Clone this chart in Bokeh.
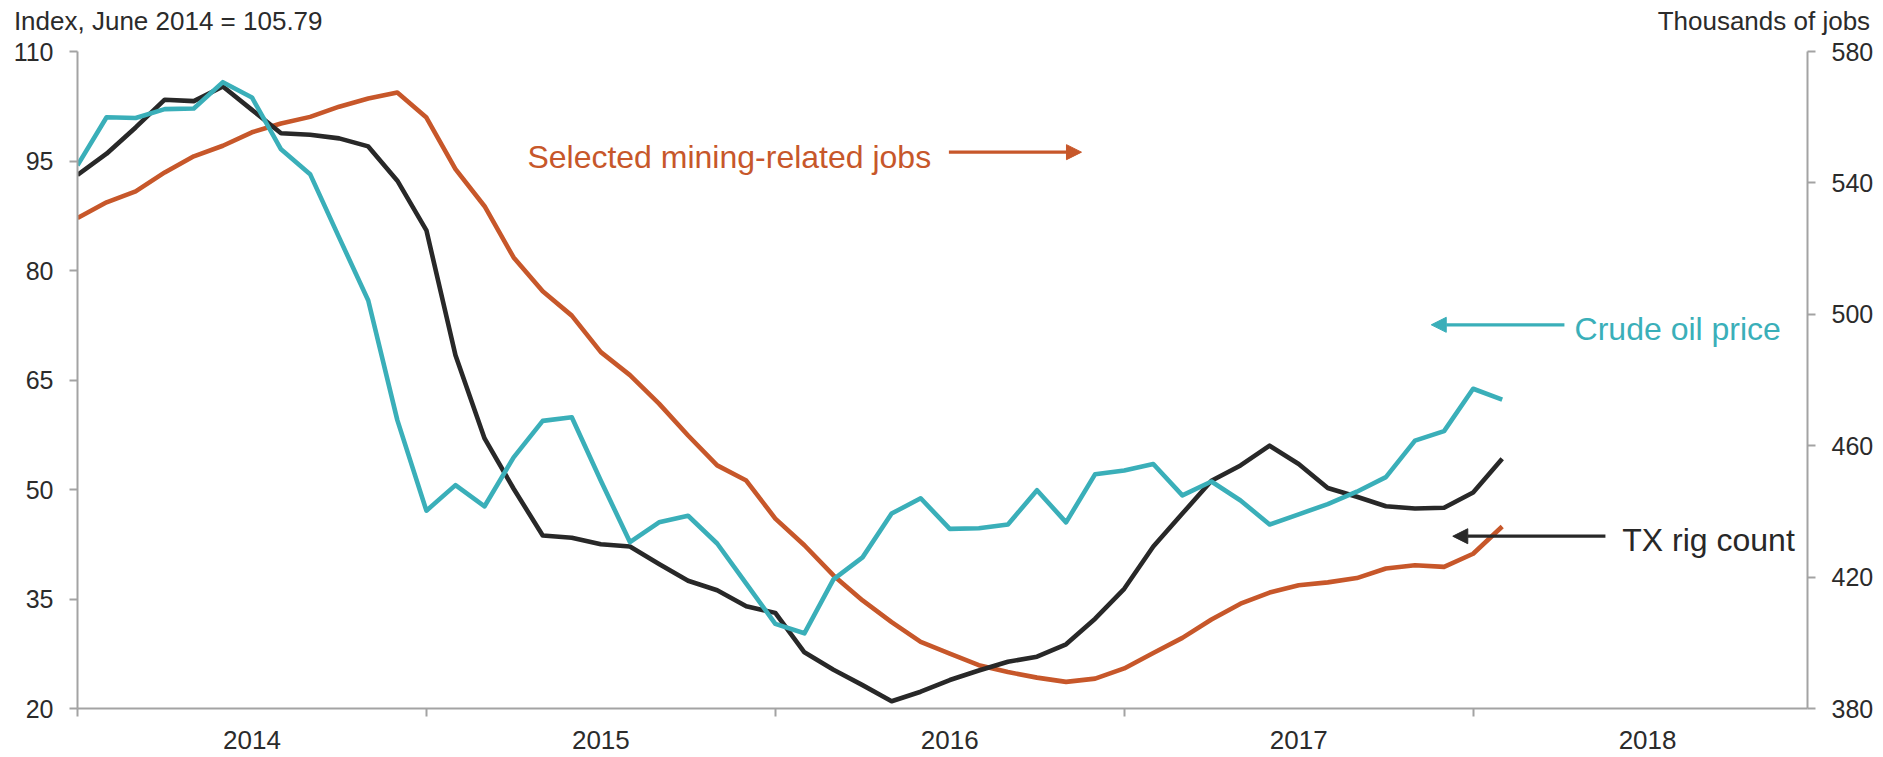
from bokeh.plotting import figure
from bokeh.models import (Range1d, LinearAxis, FixedTicker, Label, Arrow, NormalHead)
from bokeh.embed import file_html
from bokeh.resources import INLINE

# ---------------- data (monthly, Jan 2014 = 0) ----------------
months = list(range(50))
crude_oil = [94.4, 101.0, 100.9, 102.1, 102.2, 105.8, 103.7, 96.6, 93.2, 84.5,
             75.9, 59.5, 47.1, 50.6, 47.7, 54.4, 59.4, 59.9, 51.2, 42.8,
             45.5, 46.4, 42.6, 37.1, 31.6, 30.3, 37.7, 40.7, 46.7, 48.8,
             44.6, 44.7, 45.2, 49.9, 45.5, 52.1, 52.6, 53.5, 49.2, 51.1,
             48.5, 45.2, 46.6, 48.0, 49.7, 51.7, 56.7, 58.0, 63.8, 62.3]
rig_count = [93.1, 96.0, 99.6, 103.4, 103.2, 105.2, 102.0, 98.8, 98.6, 98.1,
             97.0, 92.3, 85.5, 68.4, 57.0, 50.1, 43.7, 43.4, 42.5, 42.2,
             39.8, 37.5, 36.2, 34.0, 33.1, 27.7, 25.3, 23.2, 21.0, 22.3,
             23.9, 25.2, 26.4, 27.1, 28.8, 32.3, 36.4, 42.2, 46.7, 51.2,
             53.3, 56.0, 53.5, 50.2, 49.0, 47.7, 47.4, 47.5, 49.6, 54.2]
mining_jobs = [529.3, 534.1, 537.4, 543.2, 548.1, 551.3, 555.4, 558.1, 560.1, 563.2,
               565.7, 567.5, 559.9, 544.2, 532.9, 517.3, 507.0, 499.6, 488.5, 481.5,
               472.8, 463.1, 454.0, 449.4, 437.8, 429.7, 420.5, 412.9, 406.3, 400.3,
               396.7, 393.2, 391.1, 389.4, 388.1, 389.1, 392.2, 396.9, 401.5, 407.1,
               411.9, 415.3, 417.5, 418.4, 419.7, 422.6, 423.6, 423.1, 427.1, 435.4]

year_labels = ["2014", "2015", "2016", "2017", "2018"]
year_centers = [6, 18, 30, 42, 54]
year_bounds = [0, 12, 24, 36, 48]
left_ticks = [20, 35, 50, 65, 80, 95, 110]
right_ticks = [380, 420, 460, 500, 540, 580]
axis_titles = ["Index, June 2014 = 105.79", "Thousands of jobs"]
axis_title_pos = [3.12, 58]

TEAL = "#3AAFB9"
ORANGE = "#C7572A"
BLACK = "#282828"
TEXT = "#2B2B2B"
AXIS = "#A3A3A3"
FONT = "Liberation Sans"

p = figure(width=1883, height=757, output_backend="svg", toolbar_location=None,
           title=None, x_range=Range1d(0, 59.5), y_range=Range1d(20, 110),
           min_border_left=77, min_border_right=76, min_border_top=51, min_border_bottom=49)
p.outline_line_color = None
p.xgrid.visible = False
p.ygrid.visible = False
p.background_fill_color = "white"
p.border_fill_color = "white"

p.extra_y_ranges = {"jobs": Range1d(380, 580)}

p.line(months, mining_jobs, y_range_name="jobs", line_color=ORANGE, line_width=4.6, line_join="round")
p.line(months, rig_count, line_color=BLACK, line_width=4.6, line_join="round")
p.line(months, crude_oil, line_color=TEAL, line_width=4.6, line_join="round")

def style_axis(ax, size="25px"):
    ax.axis_line_color = AXIS
    ax.axis_line_width = 2
    ax.major_tick_line_color = AXIS
    ax.major_tick_line_width = 2
    ax.minor_tick_line_color = AXIS
    ax.minor_tick_line_width = 2
    ax.major_label_text_font = FONT
    ax.major_label_text_font_size = size
    ax.major_label_text_color = TEXT

xa = p.xaxis[0]
xa.ticker = FixedTicker(ticks=year_centers, minor_ticks=year_bounds)
xa.major_label_overrides = {c: l for c, l in zip(year_centers, year_labels)}
style_axis(xa, "26px")
xa.major_tick_out = 0
xa.major_tick_in = 0
xa.minor_tick_out = 8
xa.minor_tick_in = 0
xa.major_label_standoff = 14

ya = p.yaxis[0]
ya.ticker = FixedTicker(ticks=left_ticks)
style_axis(ya)
ya.major_tick_out = 8
ya.major_tick_in = 0
ya.minor_tick_out = 0
ya.minor_tick_in = 0
ya.major_label_standoff = 16

ra = LinearAxis(y_range_name="jobs", ticker=FixedTicker(ticks=right_ticks))
style_axis(ra)
ra.major_tick_out = 8
ra.major_tick_in = 0
ra.minor_tick_out = 0
ra.minor_tick_in = 0
ra.major_label_standoff = 16
p.add_layout(ra, "right")

# axis titles, carried by a tick-less axis above the frame
ta = LinearAxis(ticker=FixedTicker(ticks=axis_title_pos),
                major_label_overrides={k: t for k, t in zip(axis_title_pos, axis_titles)})
ta.axis_line_color = None
ta.major_tick_line_color = None
ta.minor_tick_line_color = None
ta.major_tick_out = 0
ta.major_tick_in = 0
ta.minor_tick_out = 0
ta.minor_tick_in = 0
ta.major_label_text_font = FONT
ta.major_label_text_font_size = "26px"
ta.major_label_text_color = TEXT
ta.major_label_standoff = 16
p.add_layout(ta, "above")

# series annotations
p.add_layout(Label(x=29.36, y=95.6, text="Selected mining-related jobs", text_font=FONT,
                   text_font_size="32px", text_color=ORANGE, text_align="right",
                   text_baseline="middle"))
p.add_layout(Arrow(x_start=29.97, y_start=96.21, x_end=34.53, y_end=96.21, line_color=ORANGE,
                   line_width=3.2, end=NormalHead(size=15, fill_color=ORANGE, line_color=ORANGE, line_width=1)))

p.add_layout(Label(x=51.49, y=72.05, text="Crude oil price", text_font=FONT,
                   text_font_size="32px", text_color=TEAL, text_align="left",
                   text_baseline="middle"))
p.add_layout(Arrow(x_start=51.14, y_start=72.56, x_end=46.56, y_end=72.56, line_color=TEAL,
                   line_width=3.2, end=NormalHead(size=15, fill_color=TEAL, line_color=TEAL, line_width=1)))

p.add_layout(Label(x=53.13, y=43.11, text="TX rig count", text_font=FONT,
                   text_font_size="32px", text_color=BLACK, text_align="left",
                   text_baseline="middle"))
p.add_layout(Arrow(x_start=52.55, y_start=43.6, x_end=47.3, y_end=43.6, line_color=BLACK,
                   line_width=3.2, end=NormalHead(size=15, fill_color=BLACK, line_color=BLACK, line_width=1)))

open("out.html", "w").write(file_html(p, INLINE))
